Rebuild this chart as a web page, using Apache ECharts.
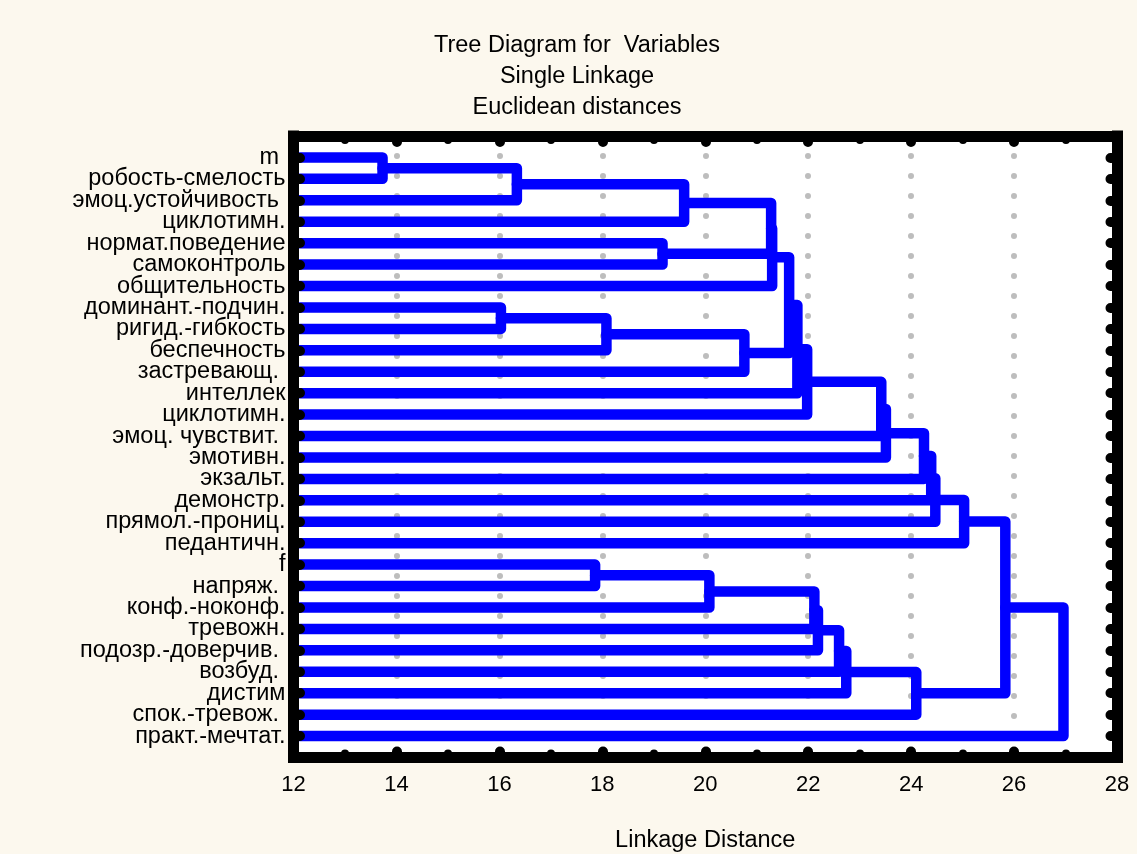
<!DOCTYPE html>
<html>
<head>
<meta charset="utf-8">
<script src="https://cdn.jsdelivr.net/npm/echarts@6/dist/echarts.min.js"></script>
<style>
  html, body { margin: 0; padding: 0; background: #fcf8ee; }
  #chart { width: 1137px; height: 854px; }
</style>
</head>
<body>
<div id="chart"></div>
<script>
// ---- data ----
const titleLines = ['Tree Diagram for  Variables', 'Single Linkage', 'Euclidean distances'];
const xAxisName = 'Linkage Distance';
const xRange = [12, 28];
const xStep = 2;

// leaves, top to bottom
const leafLabels = [
  'm ', 'робость-смелость', 'эмоц.устойчивость ', 'циклотимн.', 'нормат.поведение',
  'самоконтроль', 'общительность', 'доминант.-подчин.', 'ригид.-гибкость', 'беспечность',
  'застревающ. ', 'интеллек', 'циклотимн.', 'эмоц. чувствит. ', 'эмотивн.',
  'экзальт.', 'демонстр.', 'прямол.-прониц.', 'педантичн.', 'f',
  'напряж. ', 'конф.-ноконф.', 'тревожн.', 'подозр.-доверчив. ', 'возбуд. ',
  'дистим', 'спок.-тревож. ', 'практ.-мечтат.'
];

// merges: [child A, child B, linkage distance]; ids < 28 are leaves, id 28+k is merge k
const merges = [
  [0, 1, 13.73],    // 28
  [28, 2, 16.34],   // 29
  [29, 3, 19.59],   // 30
  [4, 5, 19.17],    // 31
  [30, 31, 21.28],  // 32
  [32, 6, 21.30],   // 33
  [7, 8, 16.03],    // 34
  [34, 9, 18.08],   // 35
  [35, 10, 20.76],  // 36
  [33, 36, 21.63],  // 37
  [37, 11, 21.79],  // 38
  [38, 12, 21.98],  // 39
  [39, 13, 23.42],  // 40
  [40, 14, 23.51],  // 41
  [41, 15, 24.25],  // 42
  [42, 16, 24.39],  // 43
  [43, 17, 24.47],  // 44
  [44, 18, 25.03],  // 45
  [19, 20, 17.86],  // 46
  [46, 21, 20.08],  // 47
  [47, 22, 22.12],  // 48
  [48, 23, 22.19],  // 49
  [49, 24, 22.60],  // 50
  [50, 25, 22.74],  // 51
  [51, 26, 24.10],  // 52
  [45, 52, 25.83],  // 53
  [53, 27, 26.96]   // 54
];

// ---- build dendrogram segments ----
const N = leafLabels.length;
const pos = [], hgt = [];
for (let i = 0; i < N; i++) { pos[i] = i; hgt[i] = xRange[0]; }
const segData = [];
merges.forEach(([a, b, h], k) => {
  const id = N + k;
  pos[id] = (pos[a] + pos[b]) / 2;
  hgt[id] = h;
  segData.push({ coords: [[hgt[a], pos[a]], [h, pos[a]], [h, pos[b]], [hgt[b], pos[b]]] });
});

const FONT = "'Liberation Sans', Arial, sans-serif";
const FS = 23.5;
const frameLine = { show: true, onZero: false, lineStyle: { color: '#000', width: 11, cap: 'square' } };
const xTick = { show: true, inside: true, length: 6, lineStyle: { color: '#000', width: 10, cap: 'round' } };
const xMinor = { show: true, splitNumber: 2, length: 4, lineStyle: { color: '#000', width: 8, cap: 'round' } };
const yTick = { show: true, inside: true, length: 6.5, lineStyle: { color: '#000', width: 10, cap: 'round' } };

const chart = echarts.init(document.getElementById('chart'), null, { renderer: 'canvas' });
chart.setOption({
  backgroundColor: '#fcf8ee',
  animation: false,
  graphic: titleLines.map((t, i) => ({
    type: 'text', x: 577, y: 46 + i * 31, z: 20,
    style: { text: t, fill: '#000', font: '23.5px ' + FONT, textAlign: 'center', textVerticalAlign: 'middle' }
  })),
  grid: {
    left: 293.5, right: 20, top: 136, bottom: 96.5, show: true, backgroundColor: '#ffffff',
    borderWidth: 0, z: 0, containLabel: false, outerBoundsMode: 'none'
  },
  xAxis: [
    {
      type: 'value', min: xRange[0], max: xRange[1], interval: xStep, position: 'bottom', z: 10,
      axisLine: frameLine, axisTick: xTick, minorTick: xMinor, splitLine: { show: false },
      axisLabel: { color: '#000', fontSize: 22, fontFamily: FONT, margin: 16 },
      name: xAxisName, nameLocation: 'middle', nameGap: 71,
      nameTextStyle: { color: '#000', fontSize: 23.5, fontFamily: FONT }
    },
    {
      type: 'value', min: xRange[0], max: xRange[1], interval: xStep, position: 'top', z: 10,
      axisLine: frameLine, axisTick: xTick, minorTick: xMinor, splitLine: { show: false },
      axisLabel: { show: false }
    },
    {
      type: 'value', min: xRange[0], max: xRange[1], interval: xStep, position: 'bottom', z: 1,
      axisLine: { show: false }, axisTick: { show: false }, axisLabel: { show: false },
      splitLine: { show: true, lineStyle: { color: '#bdbdbd', width: 6, type: [0.1, 19.9], cap: 'round' } }
    }
  ],
  yAxis: [
    {
      type: 'value', min: -1, max: N, interval: 1, inverse: true, position: 'left', z: 10,
      axisLine: frameLine, axisTick: yTick, splitLine: { show: false },
      axisLabel: {
        color: '#000', fontSize: FS, fontFamily: FONT, margin: 8,
        formatter: v => (Number.isInteger(v) && v >= 0 && v < N) ? leafLabels[v] : ''
      }
    },
    {
      type: 'value', min: -1, max: N, interval: 1, inverse: true, position: 'right', z: 10,
      axisLine: frameLine, axisTick: yTick, splitLine: { show: false }, axisLabel: { show: false }
    }
  ],
  series: [{
    type: 'lines',
    coordinateSystem: 'cartesian2d',
    xAxisIndex: 0, yAxisIndex: 0,
    polyline: true,
    z: 2,
    silent: true,
    lineStyle: { color: '#0000ff', width: 10.5, opacity: 1, cap: 'round', join: 'round' },
    data: segData
  }]
});
</script>
</body>
</html>
